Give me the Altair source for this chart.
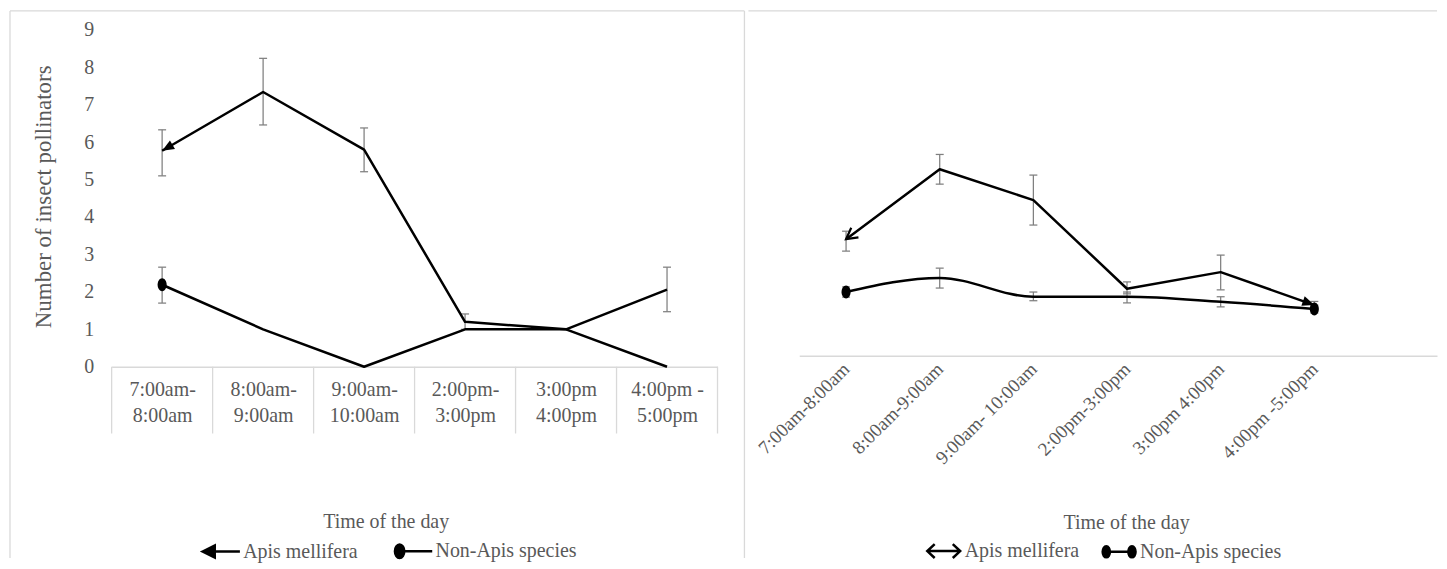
import json
import math
import altair as alt
import pandas as pd

# ---------------- data ----------------
times_left = ["7:00am-|8:00am", "8:00am-|9:00am", "9:00am-|10:00am",
              "2:00pm-|3:00pm", "3:00pm|4:00pm", "4:00pm -|5:00pm"]
times_right = ["7:00am-8:00am", "8:00am-9:00am", "9:00am- 10:00am",
               "2:00pm-3:00pm", "3:00pm 4:00pm", "4:00pm -5:00pm"]
series = ["Apis mellifera", "Non-Apis species"]

apis_left = [5.77, 7.34, 5.80, 1.20, 1.00, 2.06]
apis_left_lo = [5.10, 6.46, 5.21, 1.00, 1.00, 1.47]
apis_left_hi = [6.33, 8.24, 6.38, 1.41, 1.00, 2.66]
non_left = [2.19, 1.00, 0.00, 1.00, 1.00, 0.00]
non_left_lo = [1.70, 1.00, 0.00, 1.00, 1.00, 0.00]
non_left_hi = [2.66, 1.00, 0.00, 1.00, 1.00, 0.00]

apis_right = [3.22, 5.15, 4.30, 1.85, 2.31, 1.40]
apis_right_lo = [2.89, 4.74, 3.61, 1.71, 1.82, 1.30]
apis_right_hi = [3.44, 5.56, 4.99, 2.04, 2.78, 1.50]
non_right = [1.76, 2.15, 1.63, 1.63, 1.49, 1.29]
non_right_lo = [1.62, 1.87, 1.52, 1.46, 1.35, 1.18]
non_right_hi = [1.90, 2.42, 1.76, 1.76, 1.63, 1.40]

# ---------------- style ----------------
FONT = "Liberation Serif"
TXT = "#595959"
GRID = "#d9d9d9"
ERR = "#7f7f7f"
YDOM = [0, 9]

LW, LH = 608, 338
RW, RH = 640, 327
L_XDOM = [-0.5, 5.5]
R_XDOM = [-0.5, 6.31]

ARROW_FILLED = "M0,0L-1,-0.42L-1,0.42Z"
ARROW_OPEN = "M-1,-0.55L0,0L-1,0.55"
DOT = "M-0.7,0A0.7,1 0 1,1 0.7,0A0.7,1 0 1,1 -0.7,0Z"
CAP = "M-1,0L1,0"

LEG_ARROW_L = "M-1,0L-0.35,-0.32L-0.35,0.32Z M-0.4,0L1,0"
LEG_DOT_L = "M-1,0A0.25,0.36 0 1,1 -0.5,0A0.25,0.36 0 1,1 -1,0Z M-0.55,0L1,0"
LEG_DARROW_R = "M-1,0L1,0 M-0.55,-0.42L-1,0L-0.55,0.42 M0.55,-0.42L1,0L0.55,0.42"
LEG_DOTS_R = ("M-1,0A0.22,0.34 0 1,1 -0.56,0A0.22,0.34 0 1,1 -1,0Z M-0.6,0L0.6,0 "
              "M0.56,0A0.22,0.34 0 1,1 1,0A0.22,0.34 0 1,1 0.56,0Z")


def long_df(n, sets):
    rows = []
    for s, (v, lo, hi) in zip(series, sets):
        for i in range(n):
            rows.append(dict(i=i, series=s, v=v[i], lo=lo[i], hi=hi[i]))
    return pd.DataFrame(rows)


def direction(xa, ya, xb, yb, xpx, ypx):
    """screen angle (deg, clockwise from +x) of the vector from point a to point b"""
    dx = (xb - xa) * xpx
    dy = -(yb - ya) * ypx
    return math.degrees(math.atan2(dy, dx)) % 360


def frame_layer(x1, x2, y1, y2, sides):
    one = pd.DataFrame({"k": [0]})
    layers = []
    if "top" in sides:
        layers.append(alt.Chart(one).mark_rule(color=GRID, strokeWidth=1.3).encode(
            x=alt.value(x1), x2=alt.value(x2), y=alt.value(y1)))
    if "left" in sides:
        layers.append(alt.Chart(one).mark_rule(color=GRID, strokeWidth=1.3).encode(
            x=alt.value(x1), y=alt.value(y1), y2=alt.value(y2)))
    if "right" in sides:
        layers.append(alt.Chart(one).mark_rule(color=GRID, strokeWidth=1.3).encode(
            x=alt.value(x2), y=alt.value(y1), y2=alt.value(y2)))
    return layers


def panel(df, W, H, xdom, xaxis, yaxis, markers, legend, leg_shapes, leg_fills,
          smooth_non, extra_layers):
    xs = alt.Scale(domain=xdom, nice=False, zero=False)
    ys = alt.Scale(domain=YDOM, nice=False)
    X = alt.X("i:Q", scale=xs, axis=xaxis)

    err = alt.Chart(df).transform_filter("datum.hi > datum.lo")
    rules = err.mark_rule(color=ERR, strokeWidth=1.25).encode(
        x=X, y=alt.Y("lo:Q", scale=ys, axis=yaxis), y2="hi:Q")
    cap_lo = err.mark_point(shape=CAP, size=64, filled=False, color=ERR,
                            strokeWidth=1.25, opacity=1).encode(
        x=X, y=alt.Y("lo:Q", scale=ys, axis=yaxis))
    cap_hi = err.mark_point(shape=CAP, size=64, filled=False, color=ERR,
                            strokeWidth=1.25, opacity=1).encode(
        x=X, y=alt.Y("hi:Q", scale=ys, axis=yaxis))

    base = alt.Chart(df)
    line_apis = base.transform_filter(alt.datum.series == series[0]).mark_line(
        color="black", strokeWidth=2.5, strokeJoin="round").encode(
        x=X, y=alt.Y("v:Q", scale=ys, axis=yaxis))
    line_non = base.transform_filter(alt.datum.series == series[1]).mark_line(
        color="black", strokeWidth=2.5, strokeJoin="round",
        interpolate="monotone" if smooth_non else "linear").encode(
        x=X, y=alt.Y("v:Q", scale=ys, axis=yaxis))

    mk = alt.Chart(markers)
    m_layers = []
    kinds = set(markers["kind"])
    if "arrow_filled" in kinds:
        m_layers.append(mk.transform_filter(alt.datum.kind == "arrow_filled").mark_point(
            shape=ARROW_FILLED, size=576, filled=True, color="black", opacity=1).encode(
            x=X, y=alt.Y("v:Q", scale=ys, axis=yaxis), angle=alt.Angle("ang:Q", scale=None)))
    if "arrow_open" in kinds:
        m_layers.append(mk.transform_filter(alt.datum.kind == "arrow_open").mark_point(
            shape=ARROW_OPEN, size=484, filled=False, color="black", strokeWidth=2.2,
            opacity=1).encode(
            x=X, y=alt.Y("v:Q", scale=ys, axis=yaxis), angle=alt.Angle("ang:Q", scale=None)))
    if "dot" in kinds:
        m_layers.append(mk.transform_filter(alt.datum.kind == "dot").mark_point(
            shape=DOT, size=169, filled=True, color="black", opacity=1).encode(
            x=X, y=alt.Y("v:Q", scale=ys, axis=yaxis)))

    leg_df = pd.DataFrame({"series": series, "i": [99, 99], "v": [0, 0]})
    leg = alt.Chart(leg_df).mark_point(clip=True, opacity=1, strokeWidth=2.5).encode(
        x=X, y=alt.Y("v:Q", scale=ys, axis=yaxis),
        shape=alt.Shape("series:N", scale=alt.Scale(domain=series, range=leg_shapes),
                        legend=legend),
        fill=alt.Fill("series:N", scale=alt.Scale(domain=series, range=leg_fills),
                      legend=legend),
        stroke=alt.Stroke("series:N", scale=alt.Scale(domain=series, range=["black", "black"]),
                          legend=legend))

    return alt.layer(*extra_layers, rules, cap_lo, cap_hi, line_apis, line_non,
                     *m_layers, leg).properties(width=W, height=H)


# ---------------- left panel ----------------
df_left = long_df(len(times_left), [(apis_left, apis_left_lo, apis_left_hi),
                                    (non_left, non_left_lo, non_left_hi)])
lxpx = LW / (L_XDOM[1] - L_XDOM[0])
ypx_l = LH / (YDOM[1] - YDOM[0])
markers_left = pd.DataFrame([
    dict(i=0, v=apis_left[0], kind="arrow_filled",
         ang=direction(1, apis_left[1], 0, apis_left[0], lxpx, ypx_l)),
    dict(i=0, v=non_left[0], kind="dot", ang=0),
])

left_xaxis = alt.Axis(
    values=list(range(len(times_left))),
    labelExpr="split(" + json.dumps(times_left) + "[datum.value], '|')",
    ticks=False, tickSize=0, grid=False, domainColor=GRID, domainWidth=1.5,
    labelFont=FONT, labelFontSize=20, labelColor=TXT, labelPadding=13,
    labelBaseline="top", labelAlign="center", labelLineHeight=26, labelLimit=0,
    labelFlush=False, labelOverlap=False,
    title="Time of the day", titleFont=FONT, titleFontSize=20, titleColor=TXT,
    titleFontWeight="normal", titleX=275, titleY=155, titleAlign="center",
    titleBaseline="middle")
left_yaxis = alt.Axis(
    values=list(range(10)), ticks=False, tickSize=0, domain=False, grid=False,
    labelFont=FONT, labelFontSize=20, labelColor=TXT, labelPadding=18,
    title="Number of insect pollinators", titleFont=FONT, titleFontSize=23,
    titleColor=TXT, titleFontWeight="normal", titleX=-68, titleY=167,
    titleAngle=270, titleAlign="center", titleBaseline="middle")

left_legend = alt.Legend(
    title=None, orient="none", legendX=90, legendY=503, direction="horizontal",
    symbolSize=1400, symbolStrokeWidth=2.5, symbolStrokeColor="black",
    labelFont=FONT, labelFontSize=20, labelColor=TXT, labelOffset=2,
    columnPadding=32, padding=0, labelLimit=0, symbolOffset=0)

sep_df = pd.DataFrame({"b": [k - 0.5 for k in range(len(times_left) + 1)]})
separators = alt.Chart(sep_df).mark_rule(color=GRID, strokeWidth=1.3).encode(
    x=alt.X("b:Q", scale=alt.Scale(domain=L_XDOM, nice=False, zero=False), axis=left_xaxis),
    y=alt.value(LH), y2=alt.value(LH + 67))

left = panel(df_left, LW, LH, L_XDOM, left_xaxis, left_yaxis, markers_left,
             left_legend, [LEG_ARROW_L, LEG_DOT_L], ["black", "black"], False,
             frame_layer(-102, 635, -19, 530, ["top", "left", "right"]) + [separators])

# ---------------- right panel ----------------
df_right = long_df(len(times_right), [(apis_right, apis_right_lo, apis_right_hi),
                                      (non_right, non_right_lo, non_right_hi)])
rxpx = RW / (R_XDOM[1] - R_XDOM[0])
ypx_r = RH / (YDOM[1] - YDOM[0])
n = len(times_right)
markers_right = pd.DataFrame([
    dict(i=0, v=apis_right[0], kind="arrow_open",
         ang=direction(1, apis_right[1], 0, apis_right[0], rxpx, ypx_r)),
    dict(i=n - 1, v=apis_right[n - 1], kind="arrow_filled",
         ang=direction(n - 2, apis_right[n - 2], n - 1, apis_right[n - 1], rxpx, ypx_r)),
    dict(i=0, v=non_right[0], kind="dot", ang=0),
    dict(i=n - 1, v=non_right[n - 1], kind="dot", ang=0),
])

right_xaxis = alt.Axis(
    values=list(range(n)),
    labelExpr=json.dumps(times_right) + "[datum.value]",
    ticks=False, tickSize=0, grid=False, domainColor=GRID, domainWidth=1.5,
    labelFont=FONT, labelFontSize=19, labelColor=TXT, labelPadding=10,
    labelAngle=315, labelAlign="right", labelBaseline="middle", labelLimit=0,
    labelFlush=False, labelOverlap=False,
    title="Time of the day", titleFont=FONT, titleFontSize=20, titleColor=TXT,
    titleFontWeight="normal", titleX=328, titleY=167, titleAlign="center",
    titleBaseline="middle")

right_legend = alt.Legend(
    title=None, orient="none", legendX=127, legendY=505, direction="horizontal",
    symbolSize=1089, symbolStrokeWidth=2.5, symbolStrokeColor="black",
    labelFont=FONT, labelFontSize=20, labelColor=TXT, labelOffset=3,
    columnPadding=18, padding=0, labelLimit=0, symbolOffset=0)

right = panel(df_right, RW, RH, R_XDOM, right_xaxis, None, markers_right,
              right_legend, [LEG_DARROW_R, LEG_DOTS_R], ["transparent", "black"], True,
              frame_layer(-51, RW, -19, 530, ["top"]))

chart = alt.hconcat(left, right, spacing=0, padding=0).resolve_scale(
    shape="independent", fill="independent", stroke="independent").resolve_legend(
    shape="independent", fill="independent", stroke="independent").configure(
    background="white").configure_view(stroke="transparent")

chart.save("out.html", embed_options={"renderer": "svg", "actions": False})
